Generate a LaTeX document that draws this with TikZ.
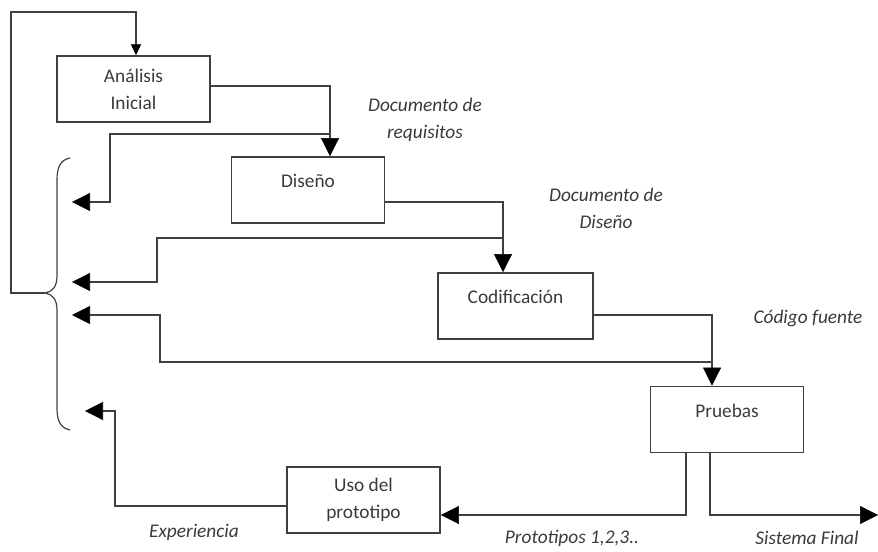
\documentclass[tikz,border=0pt]{standalone}
\usepackage{fontspec}
\setmainfont{Carlito}
\usetikzlibrary{arrows.meta}
\definecolor{ink}{HTML}{404040}
\definecolor{txt}{HTML}{3A3A3A}
\tikzset{
  box/.style={draw=ink, line width=1.3pt, rectangle, inner sep=0pt,
    minimum width=114.75pt, minimum height=49.5pt, align=center,
    text=txt, font=\fontsize{14.5}{20.3}\selectfont},
  single/.style={text height=7.5pt, text depth=10.5pt},
  lbl/.style={align=center, text=txt, inner sep=0pt,
    font=\fontsize{14.5}{20.3}\selectfont\itshape},
  wire/.style={draw=ink, line width=1.3pt},
  arr/.style={wire, -{Triangle[length=13.5pt, width=13.5pt, color=black, fill=black, line width=0.4pt]}},
  smallarr/.style={wire, -{Triangle[length=8pt, width=7.5pt, color=black, fill=black, line width=0.4pt]}},
  brace/.style={draw=ink, line width=0.9pt},
}
\begin{document}
\begin{tikzpicture}[x=0.75pt, y=-0.75pt]
\useasboundingbox (0,0) rectangle (878,552);

% process boxes
\node[box] (ana) at (133.5,89) {Análisis\\Inicial};
\node[box, single] (dis) at (308,190) {Diseño};
\node[box, single, minimum width=116.25pt] (cod) at (515.5,306) {Codificación};
\node[box, single] (pru) at (727,419.5) {Pruebas};
\node[box] (uso) at (363.5,500) {Uso del\\prototipo};

% labels of the products
\node[lbl] (reqlbl) at (425,120) {Documento de\\requisitos};
\node[lbl] (dislbl) at (606,208) {Documento de\\Diseño};
\node[lbl] (codlbl) at (808,318) {Código fuente};
\node[lbl] (protlbl) at (572,538) {Prototipos 1,2,3..};
\node[lbl] (finlbl) at (807,538) {Sistema Final};
\node[lbl] (explbl) at (194,532) {Experiencia};

% feedback brace
\coordinate (bt) at (45,293);
\draw[brace] (70,158) .. controls (60,160) and (57,168) .. (57,180)
  -- (57,276) .. controls (57,287) and (52,292) .. (bt)
  .. controls (52,294) and (57,299) .. (57,310)
  -- (57,408) .. controls (57,420) and (60,428) .. (70,430);

% helper points of the connectors
\coordinate (c0) at (136,12);
\coordinate (c1) at (330,86);
\coordinate (j1) at (330,134);
\coordinate (k1) at (110,202);
\coordinate (f1) at (72,202);
\coordinate (c2) at (503,202);
\coordinate (j2) at (503,238);
\coordinate (k2) at (157,282);
\coordinate (f2) at (72,282);
\coordinate (c3) at (712,315);
\coordinate (j3) at (712,362);
\coordinate (k3) at (160,315);
\coordinate (f3) at (72,315);
\coordinate (p1) at (686,515);
\coordinate (p2) at (710,515);
\coordinate (fin) at (878,515);
\coordinate (c4) at (115,506);
\coordinate (f4) at (85,411);

% outer loop back to the initial analysis
\draw[smallarr] (bt) -| (11,12) -- (c0) -- (c0 |- ana.north);

% forward flow
\draw[arr] (ana.east |- c1) -| (c1 |- dis.north);
\draw[arr] (dis.east |- c2) -| (c2 |- cod.north);
\draw[arr] (cod.east |- c3) -| (c3 |- pru.north);

% feedback arrows to the brace
\draw[arr] (j1) -| (k1) -- (f1);
\draw[arr] (j2) -| (k2) -- (f2);
\draw[arr] (j3) -| (k3) -- (f3);
\draw[arr] (uso.west |- c4) -| (c4 |- f4) -- (f4);

% outputs of the tests
\draw[arr] (pru.south -| p1) |- (uso.east |- p1);
\draw[arr] (pru.south -| p2) |- (fin);
\end{tikzpicture}
\end{document}
